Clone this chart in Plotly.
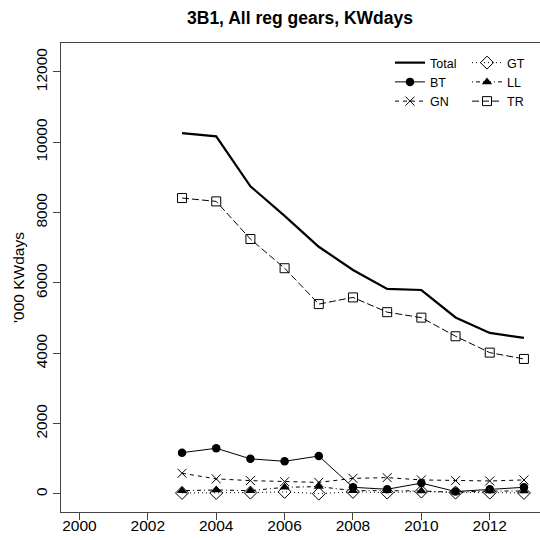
import plotly.graph_objects as go

years = [2003, 2004, 2005, 2006, 2007, 2008, 2009, 2010, 2011, 2012, 2013]
total = [10260, 10170, 8750, 7910, 7030, 6370, 5830, 5800, 5020, 4580, 4440]
bt = [1175, 1300, 1000, 930, 1080, 190, 135, 310, 70, 135, 190]
gn = [590, 430, 380, 350, 330, 445, 465, 400, 380, 370, 400]
gt = [30, 30, 40, 60, 10, 60, 40, 70, 40, 40, 30]
ll = [95, 115, 95, 190, 210, 95, 95, 85, 50, 85, 85]
tr = [8415, 8320, 7250, 6420, 5400, 5590, 5170, 5015, 4485, 4020, 3840]

x_ticks = [2000, 2002, 2004, 2006, 2008, 2010, 2012]
y_ticks = [0, 2000, 4000, 6000, 8000, 10000, 12000]

fig = go.Figure()
fig.add_trace(go.Scatter(x=years, y=total, name="Total", mode="lines", legend="legend",
                         line=dict(color="black", width=2.2)))
fig.add_trace(go.Scatter(x=years, y=bt, name="BT", mode="lines+markers", legend="legend",
                         line=dict(color="black", width=1),
                         marker=dict(symbol="circle", size=8.5, color="black")))
fig.add_trace(go.Scatter(x=years, y=gn, name="GN", mode="lines+markers", legend="legend",
                         line=dict(color="black", width=1, dash="4px,4px"),
                         marker=dict(symbol="x-thin-open", size=9, color="black", line=dict(width=1, color="black"))))
fig.add_trace(go.Scatter(x=years, y=gt, name="GT", mode="lines+markers", legend="legend2",
                         line=dict(color="black", width=1, dash="1px,3px"),
                         marker=dict(symbol="diamond-open", size=10, color="black", line=dict(width=1))))
fig.add_trace(go.Scatter(x=years, y=ll, name="LL", mode="lines+markers", legend="legend2",
                         line=dict(color="black", width=1, dash="1px,3px,4px,3px"),
                         marker=dict(symbol="triangle-up", size=9, color="black")))
fig.add_trace(go.Scatter(x=years, y=tr, name="TR", mode="lines+markers", legend="legend2",
                         line=dict(color="black", width=1, dash="7px,3px"),
                         marker=dict(symbol="square-open", size=9, color="black", line=dict(width=1))))

axis_col = "#444"
xrange_ = [1999.46, 2013.47]
leg_common = dict(orientation="v", yanchor="top", xanchor="left", xref="container", yref="container",
                  font=dict(size=12.5), bgcolor="rgba(0,0,0,0)", traceorder="normal", itemwidth=30)
fig.update_layout(
    width=540, height=540,
    margin=dict(l=61, r=0, t=43, b=28, autoexpand=False),
    paper_bgcolor="white", plot_bgcolor="white",
    font=dict(family="Liberation Sans, Arial", size=15.5, color="black"),
    title=dict(text="<b>3B1, All reg gears, KWdays</b>", x=300/540, xanchor="center",
               xref="container", yref="container",
               y=1 - 18/540, yanchor="middle", font=dict(size=17.5, color="black")),
    showlegend=True,
    legend=dict(x=390/540, y=1 - 48/540, **leg_common),
    legend2=dict(x=467/540, y=1 - 48/540, **leg_common),
    xaxis=dict(range=xrange_, tickvals=x_ticks, showticklabels=False,
               ticks="outside", ticklen=7, automargin=False,
               tickcolor=axis_col, showline=True, linecolor=axis_col, linewidth=1,
               mirror=True, showgrid=False, zeroline=False),
    xaxis2=dict(range=xrange_, overlaying="x", anchor="y", side="bottom",
                tickvals=x_ticks, ticktext=[str(v) for v in x_ticks],
                ticks="", automargin=False, showline=False, showgrid=False, zeroline=False,
                ticklabelstandoff=2, tickfont=dict(size=15.5)),
    yaxis=dict(range=[-512, 12824], tickvals=y_ticks, ticktext=[str(v) for v in y_ticks],
               ticks="outside", ticklen=7, automargin=False,
               tickcolor=axis_col, showline=True, linecolor=axis_col, linewidth=1,
               showgrid=False, zeroline=False, tickangle=-90,
               tickfont=dict(size=15.5),
               title=dict(text="'000 KWdays", font=dict(size=15.5), standoff=4)),
)
# invisible helper trace to activate the label axis
fig.add_trace(go.Scatter(x=[years[0]], y=[total[0]], xaxis="x2", yaxis="y", mode="markers",
                         marker=dict(opacity=0), showlegend=False, hoverinfo="skip"))

fig.write_html("out.html", post_script="document.body.style.margin='0';",
               config={"displayModeBar": False})
